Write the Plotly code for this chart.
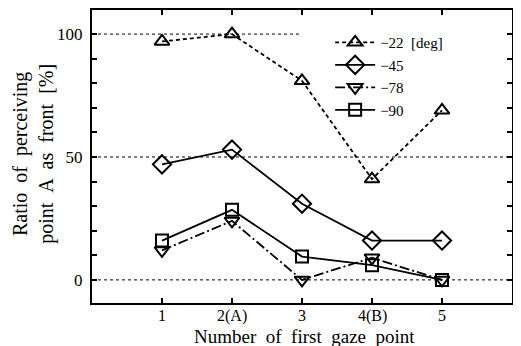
import plotly.graph_objects as go

x_vals = [1, 2, 3, 4, 5]
x_labels = ["1", "2(A)", "3", "4(B)", "5"]
s22 = [97, 100, 81, 41, 69]
s45 = [47, 53, 31, 16, 16]
s78 = [12, 24, 0, 9, 0]
s90 = [16, 28.5, 9.5, 6, 0]
series_names = ["\u221222  [deg]", "\u221245", "\u221278", "\u221290"]
y_range = [-9.4, 109.8]
x_range = [0, 6]

FONT = "Liberation Serif"
SP = " \u00a0"
fig = go.Figure()

specs = [
    (s22, series_names[0], "triangle-up-open", "4px,3px", 13),
    (s45, series_names[1], "diamond-open", "solid", 14),
    (s78, series_names[2], "triangle-down-open", "10px,3px,2px,3px", 13),
    (s90, series_names[3], "square-open", "solid", 12),
]
for ys, name, sym, dash, ms in specs:
    fig.add_trace(go.Scatter(
        x=x_vals, y=ys, name=name, mode="lines+markers",
        line=dict(color="black", width=1.8, dash=dash),
        marker=dict(symbol=sym, size=ms, color="black", line=dict(width=2, color="black")),
    ))

# dotted reference lines
fig.add_shape(type="line", x0=0, x1=2.97, y0=100, y1=100, xref="x", yref="y",
              line=dict(color="black", width=1, dash="dot"), layer="below")
for yv in [50, 0]:
    fig.add_shape(type="line", x0=0, x1=6, y0=yv, y1=yv, xref="x", yref="y",
                  line=dict(color="black", width=1, dash="dot"), layer="below")

# x tick labels placed at the category positions
for xv, lab in zip(x_vals, x_labels):
    fig.add_annotation(text=lab, xref="x", yref="paper", x=xv, y=0, xanchor="center", yanchor="top",
                       yshift=-3, borderpad=0, showarrow=False,
                       font=dict(family=FONT, size=16, color="black"))

# axis titles as annotations
fig.add_annotation(text=SP.join("Number of first gaze point".split(" ")),
                   xref="paper", yref="paper", x=0.506, y=0, xanchor="center", yanchor="top",
                   yshift=-21.5, borderpad=0, showarrow=False, font=dict(family=FONT, size=19, color="black"))
fig.add_annotation(text=SP.join("Ratio of perceiving".split(" ")) + "<br>" + SP.join("point A as front [%]".split(" ")),
                   xref="paper", yref="paper", x=0, y=0.509, xanchor="center", yanchor="middle",
                   xshift=-58, textangle=-90, showarrow=False,
                   font=dict(family=FONT, size=20, color="black"))

# page body has an 8px margin, so the figure is 8px smaller and shifted
fig.update_layout(
    width=513, height=338,
    margin=dict(l=84, r=9, t=2, b=43),
    paper_bgcolor="white", plot_bgcolor="white",
    font=dict(family=FONT, color="black", size=16),
    showlegend=True,
    legend=dict(x=0.567, y=0.945, xanchor="left", yanchor="top",
                bgcolor="rgba(0,0,0,0)", font=dict(family=FONT, size=15),
                itemwidth=40, tracegroupgap=0),
    yaxis2=dict(overlaying="y", side="right", range=y_range, showticklabels=False,
                tickvals=list(range(0, 101, 10)), ticks="inside", ticklen=5, tickwidth=1.5,
                tickcolor="black", showgrid=False, zeroline=False, showline=False, automargin=False),
)
fig.update_xaxes(
    range=x_range, tickvals=x_vals, showticklabels=False,
    showline=True, linecolor="black", linewidth=2, mirror="ticks",
    ticks="inside", ticklen=5, tickwidth=1.5, tickcolor="black",
    showgrid=False, zeroline=False, automargin=False,
)
fig.update_yaxes(
    selector=dict(overlaying=None),
    range=y_range, tickvals=[0, 50, 100],
    showline=True, linecolor="black", linewidth=2, mirror="ticks",
    ticks="inside", ticklen=5, tickwidth=1.5, tickcolor="black",
    minor=dict(dtick=10, tick0=0, ticks="inside", ticklen=5, tickwidth=1.5, tickcolor="black", showgrid=False),
    showgrid=False, zeroline=False, automargin=False, ticklabelstandoff=4,
    tickfont=dict(family=FONT, size=17),
)
fig.add_trace(go.Scatter(x=[None], y=[None], yaxis="y2", showlegend=False, hoverinfo="skip"))

fig.write_html("out.html")
